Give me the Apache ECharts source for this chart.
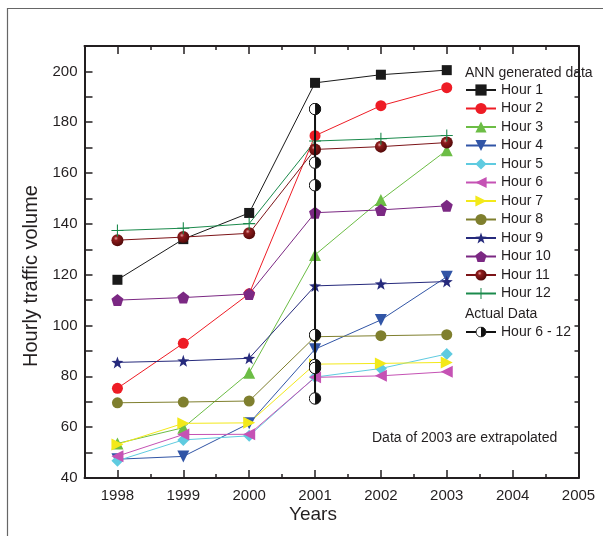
<!DOCTYPE html>
<html>
<head>
<meta charset="utf-8">
<script src="https://cdn.jsdelivr.net/npm/echarts@6/dist/echarts.min.js"></script>
<style>
  html, body { margin: 0; padding: 0; background: #fff; }
  #chart { width: 603px; height: 536px; }
</style>
</head>
<body>
<div id="chart"></div>
<script>
  // values
  const years = [1998, 1999, 2000, 2001, 2002, 2003];
  const hour1 = [118, 134, 144.3, 195.5, 198.7, 200.5];
  const hour2 = [75.3, 93, 112.5, 174.7, 186.5, 193.6];
  const hour3 = [53.6, 59.8, 81.4, 127.8, 149.4, 169];
  const hour4 = [47.4, 48.5, 61.5, 90.7, 102.2, 119.2];
  const hour5 = [46.8, 55, 56.6, 79.7, 83.1, 88.8];
  const hour6 = [48.6, 57.1, 57.2, 79.6, 80.2, 81.8];
  const hour7 = [53.2, 61.5, 61.7, 84.8, 85.1, 85.5];
  const hour8 = [69.6, 69.9, 70.3, 95.6, 96, 96.4];
  const hour9 = [85.5, 86.1, 87.1, 115.6, 116.4, 117.3];
  const hour10 = [110, 111, 112.4, 144.4, 145.5, 147.1];
  const hour11 = [133.6, 134.8, 136.3, 169.3, 170.4, 172];
  const hour12 = [137.4, 138.3, 140.1, 172.6, 173.5, 174.8];
  const actualYear = 2001;
  const actual = [185.2, 164.1, 155.2, 96.3, 84.5, 83.3, 71.3];

  const majorYears = [1998, 1999, 2000, 2001, 2002, 2003, 2004, 2005];
  const halfYears = [1998.5, 1999.5, 2000.5, 2001.5, 2002.5, 2003.5, 2004.5];

  const ink = '#231f20';
  const font = "'Liberation Sans', Arial, Helvetica, sans-serif";

  const starPath = 'path://M0,-10L2.35,-3.24L9.51,-3.09L3.8,1.24L5.88,8.09L0,4L-5.88,8.09L-3.8,1.24L-9.51,-3.09L-2.35,-3.24Z';
  const pentaPath = 'path://M0,-10L9.51,-3.09L5.88,8.09L-5.88,8.09L-9.51,-3.09Z';
  const plusPath = 'path://M-0.9,-10H0.9V-0.9H10V0.9H0.9V10H-0.9V0.9H-10V-0.9H-0.9Z';
  const downTri = 'path://M0,0L10,0L5,9Z';
  const leftTri = 'path://M0,5L9,0L9,10Z';
  const rightTri = 'path://M0,0L9,5L0,10Z';

  const halfSvg = "<svg xmlns='http://www.w3.org/2000/svg' width='26' height='26' viewBox='0 0 26 26'>" +
    "<circle cx='13' cy='13' r='11.5' fill='#fff' stroke='#111' stroke-width='2'/>" +
    "<path d='M13,1.5 A11.5,11.5 0 0 1 13,24.5 Z' fill='#111'/></svg>";
  const halfCircle = 'image://data:image/svg+xml;charset=utf-8,' + encodeURIComponent(halfSvg);

  const ballColor = {
    type: 'radial', x: 0.38, y: 0.35, r: 0.7,
    colorStops: [
      { offset: 0, color: '#e8a0a0' },
      { offset: 0.25, color: '#8e1c1c' },
      { offset: 1, color: '#4e0808' }
    ]
  };

  const hours = [
    { name: 'Hour 1', data: hour1, color: '#1a1a1a', symbol: 'rect', size: 10 },
    { name: 'Hour 2', data: hour2, color: '#ee1c25', symbol: 'circle', size: 11 },
    { name: 'Hour 3', data: hour3, color: '#6cbd45', symbol: 'triangle', size: 12 },
    { name: 'Hour 4', data: hour4, color: '#3155a6', symbol: downTri, size: 12 },
    { name: 'Hour 5', data: hour5, color: '#5fcbe0', symbol: 'diamond', size: 12 },
    { name: 'Hour 6', data: hour6, color: '#c552b4', symbol: leftTri, size: 12 },
    { name: 'Hour 7', data: hour7, color: '#f3e91a', symbol: rightTri, size: 12 },
    { name: 'Hour 8', data: hour8, color: '#7f7f2e', symbol: 'circle', size: 11 },
    { name: 'Hour 9', data: hour9, color: '#262a7c', symbol: starPath, size: 12 },
    { name: 'Hour 10', data: hour10, color: '#7b2883', symbol: pentaPath, size: 12 },
    { name: 'Hour 11', data: hour11, color: '#7c1418', symbol: 'circle', size: 12, fill: ballColor },
    { name: 'Hour 12', data: hour12, color: '#1b8a4c', symbol: plusPath, size: 12 }
  ];

  const series = hours.map(h => ({
    name: h.name,
    type: 'line',
    data: years.map((y, i) => [y, h.data[i]]),
    symbol: h.symbol,
    symbolSize: h.size,
    lineStyle: { color: h.color, width: 1 },
    itemStyle: { color: h.fill || h.color },
    emphasis: { disabled: true },
    z: 2
  }));

  series.push({
    name: 'Hour 6 - 12',
    type: 'line',
    data: actual.map(v => [actualYear, v]),
    symbol: halfCircle,
    symbolSize: 13,
    lineStyle: { color: '#111', width: 2 },
    itemStyle: { color: '#111' },
    emphasis: { disabled: true },
    z: 3
  });

  const tickStyle = { color: ink, width: 1.5 };

  const chart = echarts.init(document.getElementById('chart'));
  chart.setOption({
    animation: false,
    backgroundColor: '#fff',
    textStyle: { fontFamily: font },
    grid: { left: 84.5, right: 24.5, top: 46, bottom: 58 },
    xAxis: [
      {
        type: 'value', min: 1997.5, max: 2005, position: 'bottom',
        axisLine: { show: true, onZero: false, lineStyle: { color: ink, width: 2 } },
        axisTick: { show: true, inside: true, length: 8, customValues: majorYears, lineStyle: tickStyle },
        axisLabel: { customValues: majorYears, formatter: v => String(v), fontSize: 15, color: ink, margin: 10, fontFamily: font },
        splitLine: { show: false }
      },
      {
        type: 'value', min: 1997.5, max: 2005, position: 'bottom',
        axisLine: { show: false, onZero: false },
        axisTick: { show: true, inside: true, length: 4, customValues: halfYears, lineStyle: tickStyle },
        axisLabel: { show: false },
        splitLine: { show: false }
      },
      {
        type: 'value', min: 1997.5, max: 2005, position: 'top',
        axisLine: { show: true, onZero: false, lineStyle: { color: ink, width: 2 } },
        axisTick: { show: true, inside: true, length: 8, customValues: majorYears, lineStyle: tickStyle },
        axisLabel: { show: false },
        splitLine: { show: false }
      },
      {
        type: 'value', min: 1997.5, max: 2005, position: 'top',
        axisLine: { show: false, onZero: false },
        axisTick: { show: true, inside: true, length: 4, customValues: halfYears, lineStyle: tickStyle },
        axisLabel: { show: false },
        splitLine: { show: false }
      }
    ],
    yAxis: [
      {
        type: 'value', min: 40, max: 210, interval: 10, position: 'left',
        axisLine: { show: true, onZero: false, lineStyle: { color: ink, width: 2 } },
        axisTick: { show: true, inside: true, length: 8, lineStyle: tickStyle },
        axisLabel: {
          formatter: v => (v % 20 === 0 && v <= 200) ? String(v) : '',
          fontSize: 15, color: ink, margin: 7, fontFamily: font
        },
        splitLine: { show: false }
      },
      {
        type: 'value', min: 40, max: 210, interval: 10, position: 'right',
        axisLine: { show: true, onZero: false, lineStyle: { color: ink, width: 2 } },
        axisTick: { show: true, inside: true, length: 4, lineStyle: tickStyle },
        axisLabel: { show: false },
        splitLine: { show: false }
      }
    ],
    legend: [
      {
        data: hours.map(h => h.name),
        orient: 'vertical', left: 465, top: 83, padding: 0,
        itemWidth: 30, itemHeight: 14, itemGap: 4.5,
        selectedMode: false,
        textStyle: { fontSize: 14, color: ink, fontFamily: font }
      },
      {
        data: ['Hour 6 - 12'],
        orient: 'vertical', left: 465, top: 325, padding: 0,
        itemWidth: 30, itemHeight: 14,
        selectedMode: false,
        textStyle: { fontSize: 14, color: ink, fontFamily: font }
      }
    ],
    graphic: [
      {
        type: 'rect', silent: true, z: -1,
        shape: { x: 7.5, y: 8.5, width: 700, height: 700 },
        style: { fill: 'none', stroke: '#666', lineWidth: 1.2 }
      },
      {
        type: 'text', left: 465, top: 66,
        style: { text: 'ANN generated data', fontSize: 14, fill: ink, fontFamily: font }
      },
      {
        type: 'text', left: 465, top: 307,
        style: { text: 'Actual Data', fontSize: 14, fill: ink, fontFamily: font }
      },
      {
        type: 'text', left: 372, top: 431,
        style: { text: 'Data of 2003 are extrapolated', fontSize: 14, fill: ink, fontFamily: font }
      },
      {
        type: 'text', x: 31, y: 276, rotation: Math.PI / 2,
        style: { text: 'Hourly traffic volume', fontSize: 20, fill: ink, fontFamily: font, align: 'center', verticalAlign: 'middle' }
      },
      {
        type: 'text', x: 313, y: 515,
        style: { text: 'Years', fontSize: 19, fill: ink, fontFamily: font, align: 'center', verticalAlign: 'middle' }
      }
    ],
    series: series
  });
</script>
</body>
</html>
